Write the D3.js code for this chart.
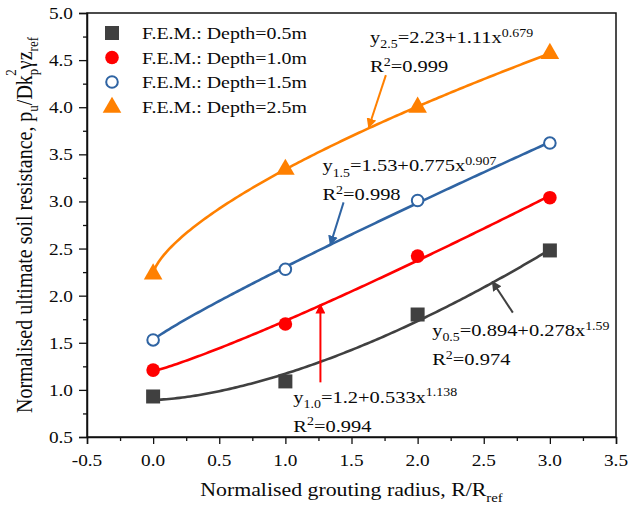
<!DOCTYPE html>
<html><head><meta charset="utf-8">
<script src="https://cdn.jsdelivr.net/npm/d3@7"></script>
<style>body{margin:0;background:#fff}svg{display:block}text{font-family:"Liberation Serif","Times New Roman",serif;fill:#0a0a0a}</style>
</head><body><div id="chart"></div>
<script>
// ---- data ----
const xValues = [0, 1, 2, 3];
const seriesNames = ["F.E.M.: Depth=0.5m", "F.E.M.: Depth=1.0m", "F.E.M.: Depth=1.5m", "F.E.M.: Depth=2.5m"];
const depth05 = [0.93, 1.09, 1.80, 2.48];
const depth10 = [1.21, 1.70, 2.42, 3.04];
const depth15 = [1.53, 2.28, 3.01, 3.62];
const depth25 = [2.24, 3.35, 4.01, 4.58];
// fitted curves y = a + b x^c
const fitA = [0.894, 1.2, 1.53, 2.23];
const fitB = [0.278, 0.533, 0.775, 1.11];
const fitC = [1.59, 1.138, 0.907, 0.679];
const fitLabels = ["0.5", "1.0", "1.5", "2.5"];
const fitR2 = ["0.974", "0.994", "0.998", "0.999"];
const xTicks = [-0.5, 0.0, 0.5, 1.0, 1.5, 2.0, 2.5, 3.0, 3.5];
const xTickLabels = ["-0.5", "0.0", "0.5", "1.0", "1.5", "2.0", "2.5", "3.0", "3.5"];
const yTicks = [0.5, 1.0, 1.5, 2.0, 2.5, 3.0, 3.5, 4.0, 4.5, 5.0];
const yTickLabels = ["0.5", "1.0", "1.5", "2.0", "2.5", "3.0", "3.5", "4.0", "4.5", "5.0"];
// annotation anchors (data units): text position, arrow start, arrow tip
const annText = [[2.11, 1.57], [1.06, 0.86], [1.28, 3.32], [1.64, 4.68]];
const annFrom = [[2.72, 1.82], [1.265, 1.08], [1.44, 2.99], [1.76, 4.34]];
const annTo = [[2.565, 2.15], [1.265, 1.905], [1.34, 2.54], [1.63, 3.785]];

const colors = ["#404040", "#ff0000", "#2f64a3", "#ff8000"];
const allSeries = [depth05, depth10, depth15, depth25];

const W = 636, H = 509;
const m = {l: 87, r: 20, t: 13, b: 72};
const svg = d3.select("#chart").append("svg").attr("width", W).attr("height", H);
const x = d3.scaleLinear().domain([-0.5, 3.5]).range([m.l, W - m.r]);
const y = d3.scaleLinear().domain([0.5, 5.0]).range([H - m.b, m.t]);
const SX = 1.17;

function rich(g, px, py, parts, size, sx, anchor) {
  const t = g.append("text").attr("font-size", size)
    .attr("transform", `translate(${px},${py}) scale(${sx},1)`)
    .attr("text-anchor", anchor || "start");
  let cur = 0;
  parts.forEach(p => {
    let shift = 0, fs = size;
    if (p.sub) { shift = size * 0.3; fs = size * 0.68; }
    if (p.sup) { shift = -size * 0.38; fs = size * 0.68; }
    t.append("tspan").attr("dy", shift - cur).attr("font-size", fs).text(p.t);
    cur = shift;
  });
  return t;
}

// axes
const gx = svg.append("g").attr("transform", `translate(0,${H - m.b})`);
gx.call(d3.axisBottom(x).tickValues(d3.range(-0.25, 3.5, 0.5)).tickSize(4).tickFormat(""));
gx.call(g => g.selectAll(".domain").remove());
const gx2 = svg.append("g").attr("transform", `translate(0,${H - m.b})`)
  .call(d3.axisBottom(x).tickValues(xTicks).tickSize(7).tickFormat(""));
xTicks.forEach((v, i) => rich(svg, x(v), H - m.b + 29, [{t: xTickLabels[i]}], 16.5, SX, "middle"));

const gy = svg.append("g").attr("transform", `translate(${m.l},0)`);
gy.call(d3.axisLeft(y).tickValues(d3.range(0.75, 5.0, 0.5)).tickSize(4).tickFormat(""));
gy.call(g => g.selectAll(".domain").remove());
const gy2 = svg.append("g").attr("transform", `translate(${m.l},0)`)
  .call(d3.axisLeft(y).tickValues(yTicks).tickSize(8).tickFormat(""));
yTicks.forEach((v, i) => rich(svg, m.l - 14, y(v) + 6, [{t: yTickLabels[i]}], 16.5, SX, "end"));
svg.selectAll(".tick line").attr("stroke", "#111").attr("stroke-width", 1.3);
svg.selectAll(".domain").attr("stroke", "#111").attr("stroke-width", 1.5);
svg.append("rect").attr("x", m.l).attr("y", m.t).attr("width", W - m.r - m.l).attr("height", H - m.b - m.t)
  .attr("fill", "none").attr("stroke", "#111").attr("stroke-width", 1.5);

// axis titles
rich(svg, x(1.5), H - 13, [{t: "Normalised grouting radius, R/R"}, {t: "ref", sub: true}], 19.5, 1.12, "middle");
const yt = svg.append("text").attr("font-size", 20).attr("text-anchor", "middle")
  .attr("transform", `translate(32,${(m.t + H - m.b) / 2}) rotate(-90) scale(1,1.12)`);
[["Normalised ultimate soil resistance, p", 0, 20], ["u", 5, 13], ["/Dk", 0, 20], ["p", 5, 13], ["2", -14, 13], ["γz", 0, 20], ["ref", 5, 13]].forEach((p, i, arr) => {
  const prev = i ? arr[i - 1][1] : 0;
  const ts = yt.append("tspan").attr("dy", p[1] - prev).attr("font-size", p[2]).text(p[0]);
  if (p[0] === "2") ts.attr("dx", -7);
});

// fit curves
const curveXs = d3.range(0, 3.0001, 0.02);
const line = d3.line().x(d => x(d[0])).y(d => y(d[1])).curve(d3.curveLinear);
allSeries.forEach((s, i) => {
  const pts = curveXs.map(v => [v, fitA[i] + fitB[i] * Math.pow(v, fitC[i])]);
  svg.append("path").attr("d", line(pts)).attr("fill", "none").attr("stroke", colors[i]).attr("stroke-width", 2.6);
});

// markers
function marker(g, i, cx, cy) {
  if (i === 0) g.append("rect").attr("x", cx - 7).attr("y", cy - 7).attr("width", 14).attr("height", 14).attr("fill", colors[0]);
  else if (i === 1) g.append("circle").attr("cx", cx).attr("cy", cy).attr("r", 6.8).attr("fill", colors[1]);
  else if (i === 2) g.append("circle").attr("cx", cx).attr("cy", cy).attr("r", 5.8).attr("fill", "#fff").attr("stroke", colors[2]).attr("stroke-width", 2);
  else g.append("path").attr("d", d3.symbol(d3.symbolTriangle, 150)()).attr("transform", `translate(${cx},${cy + 1})`).attr("fill", colors[3]);
}
allSeries.forEach((s, i) => s.forEach((v, j) => marker(svg, i, x(xValues[j]), y(v))));

// legend
seriesNames.forEach((n, i) => {
  const ly = 33 + i * 24.5;
  marker(svg, i, 112, ly);
  rich(svg, 142, ly + 6, [{t: n}], 17, SX, "start");
});

// annotations
svg.append("defs").selectAll("marker").data(colors).join("marker")
  .attr("id", (d, i) => "ah" + i).attr("viewBox", "0 0 10 10").attr("refX", 9).attr("refY", 5)
  .attr("markerWidth", 5).attr("markerHeight", 5).attr("markerUnits", "strokeWidth").attr("orient", "auto")
  .append("path").attr("d", "M0,0 L10,5 L0,10 Z").attr("fill", d => d);
allSeries.forEach((s, i) => {
  svg.append("line").attr("x1", x(annFrom[i][0])).attr("y1", y(annFrom[i][1]))
    .attr("x2", x(annTo[i][0])).attr("y2", y(annTo[i][1]))
    .attr("stroke", colors[i]).attr("stroke-width", 2).attr("marker-end", `url(#ah${i})`);
  const tx = x(annText[i][0]), ty = y(annText[i][1]);
  rich(svg, tx, ty, [{t: "y"}, {t: fitLabels[i], sub: true}, {t: `=${fitA[i]}+${fitB[i]}x`}, {t: String(fitC[i]), sup: true}], 17.5, SX, "start");
  rich(svg, tx, ty + 29, [{t: "R"}, {t: "2", sup: true}, {t: "=" + fitR2[i]}], 17.5, SX, "start");
});
</script></body></html>
